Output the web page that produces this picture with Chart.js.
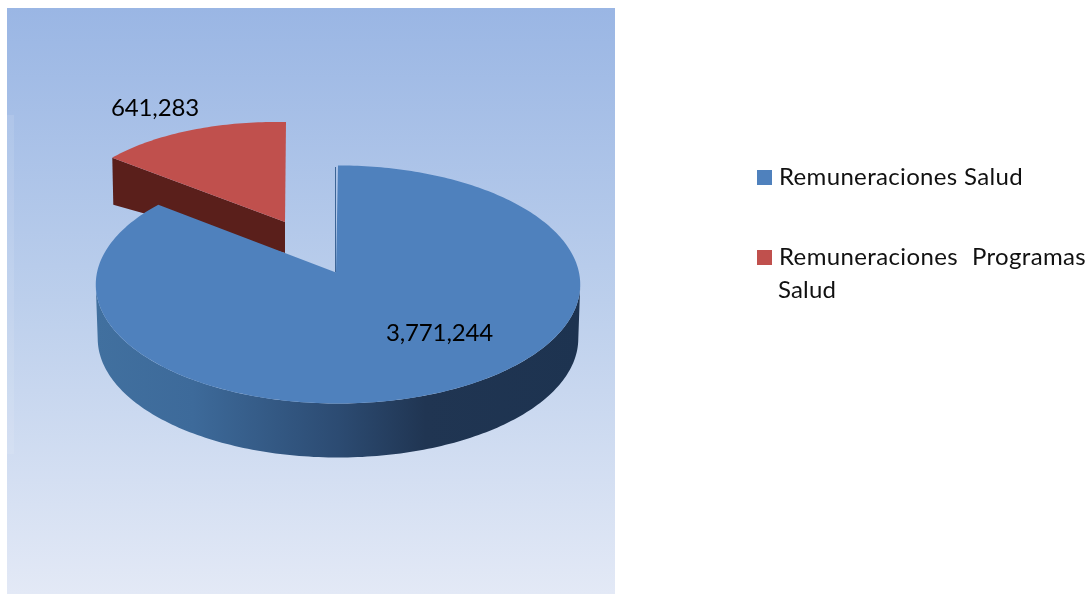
<!DOCTYPE html>
<html>
<head>
<meta charset="utf-8">
<script src="https://cdn.jsdelivr.net/npm/chart.js@4"></script>
<style>html,body{margin:0;padding:0;background:#fff;overflow:hidden}canvas{display:block}</style>
</head>
<body>
<canvas id="c" width="1089" height="594"></canvas>
<script>
const categories = ["Remuneraciones Salud", "Remuneraciones Programas Salud"];
const seriesValues = [3771244, 641283];
const valueLabels = ["3,771,244", "641,283"];
const sliceColors = ["#4f81bd", "#c0504d"];

const FONT = '24px Lato, Carlito, sans-serif';

// projection of the tilted pie disc: (u right, v away from the viewer, unit radius)
const blueCam = {x:338, y:272.5, rx:241, ry:117.8, p:0.1007, depth:54};
function projBlue(u, v, z) {
  const w = 1 + blueCam.p * v;
  const k = z ? 0.992 : 1;
  return [blueCam.x + k * blueCam.rx * u / w, blueCam.y - blueCam.ry * v / w + (z ? blueCam.depth : 0)];
}
// exploded slice: its own affine frame
const redFrame = {x:285, y:222, ax:1, ay:-100, bx:-219, by:-4};
function projRed(u, v) {
  return [redFrame.x + redFrame.ax * v + redFrame.bx * -u, redFrame.y + redFrame.ay * v + redFrame.by * -u];
}
function outline(ctx, fn, a0, a1, n, first) {
  for (let i = 0; i <= n; i++) {
    const t = a0 + (a1 - a0) * i / n;
    const th = t + Math.PI / 2;
    const p = fn(Math.sin(th), Math.cos(th));
    if (i === 0 && first) ctx.moveTo(p[0], p[1]); else ctx.lineTo(p[0], p[1]);
  }
}
function fitText(ctx, text, x, y, width) {
  ctx.letterSpacing = '0px';
  const m = ctx.measureText(text).width;
  ctx.letterSpacing = ((width - m) / text.length).toFixed(3) + 'px';
  ctx.fillText(text, x, y);
  ctx.letterSpacing = '0px';
}

const piePlugin = {
  id: 'tiltedPie',
  beforeDraw(chart) {
    const ctx = chart.ctx;
    const g = ctx.createLinearGradient(0, 8, 0, 594);
    g.addColorStop(0, '#9ab6e4');
    g.addColorStop(0.5, '#bccfec');
    g.addColorStop(1, '#e3e9f6');
    ctx.fillStyle = '#fff';
    ctx.fillRect(0, 0, 1089, 594);
    ctx.fillStyle = g;
    ctx.fillRect(7, 8, 608, 586);
    ctx.fillStyle = 'rgba(255,255,255,0.10)';
    ctx.fillRect(6, 115, 8, 339);
  },
  beforeDatasetDraw(chart) {
    const ctx = chart.ctx;
    const arcs = chart.getDatasetMeta(0).data;
    const blue = arcs[0], red = arcs[1];
    ctx.save();

    // exploded slice wall
    ctx.beginPath();
    const rl = projRed(Math.sin(red.startAngle + Math.PI / 2), Math.cos(red.startAngle + Math.PI / 2));
    ctx.moveTo(rl[0], rl[1]);
    ctx.lineTo(redFrame.x, redFrame.y);
    ctx.lineTo(redFrame.x, redFrame.y + 31);
    ctx.lineTo(rl[0] + 1, rl[1] + 47);
    ctx.closePath();
    ctx.fillStyle = '#5a1f1b';
    ctx.fill();

    // exploded slice top
    ctx.beginPath();
    ctx.moveTo(redFrame.x, redFrame.y);
    outline(ctx, projRed, red.startAngle, red.endAngle, 50, false);
    ctx.closePath();
    ctx.fillStyle = sliceColors[1];
    ctx.fill();

    // main slice wall, from silhouette edge to silhouette edge
    const a0 = 96 * Math.PI / 180 - Math.PI / 2, a1 = 264 * Math.PI / 180 - Math.PI / 2;
    ctx.beginPath();
    outline(ctx, (u, v) => projBlue(u, v, false), a0, a1, 160, true);
    outline(ctx, (u, v) => projBlue(u, v, true), a1, a0, 160, false);
    ctx.closePath();
    const w = ctx.createLinearGradient(96, 0, 581, 0);
    w.addColorStop(0, '#41709f');
    w.addColorStop(0.2, '#3d6a9a');
    w.addColorStop(0.5, '#2c4b72');
    w.addColorStop(0.68, '#203552');
    w.addColorStop(1, '#1d3350');
    ctx.fillStyle = w;
    ctx.fill();

    // main slice inner edge
    ctx.beginPath();
    ctx.moveTo(blueCam.x - 2.5, 167);
    ctx.lineTo(blueCam.x - 2.5, blueCam.y);
    ctx.strokeStyle = '#3d6596';
    ctx.lineWidth = 1;
    ctx.stroke();

    // main slice top
    ctx.beginPath();
    ctx.moveTo(blueCam.x - 2, blueCam.y);
    outline(ctx, (u, v) => projBlue(u, v, false), blue.startAngle, blue.endAngle, 300, false);
    ctx.closePath();
    ctx.fillStyle = sliceColors[0];
    ctx.fill();

    ctx.restore();
    return false;
  },
  afterDatasetsDraw(chart) {
    const ctx = chart.ctx;
    const labels = chart.data.labels;
    ctx.save();
    ctx.fillStyle = '#000';
    ctx.textBaseline = 'alphabetic';
    ctx.textAlign = 'left';
    ctx.font = FONT;
    fitText(ctx, valueLabels[0], 386, 341, 107);
    fitText(ctx, valueLabels[1], 111, 116, 88);

    // legend
    ctx.fillStyle = sliceColors[0];
    ctx.fillRect(757, 170, 15, 15);
    ctx.fillStyle = sliceColors[1];
    ctx.fillRect(757, 250, 15, 15);
    ctx.fillStyle = '#111';
    ctx.font = FONT;
    fitText(ctx, labels[0], 779, 185, 244);
    const words = labels[1].split(' ');
    fitText(ctx, words[0], 779, 265, 179);
    fitText(ctx, words[1], 972, 265, 114);
    fitText(ctx, words[2], 778, 298, 58);
    ctx.restore();
  }
};

new Chart(document.getElementById('c'), {
  type: 'pie',
  data: {
    labels: categories,
    datasets: [{ data: seriesValues, backgroundColor: sliceColors, borderWidth: 0 }]
  },
  options: {
    responsive: false,
    animation: false,
    layout: { padding: 0 },
    plugins: { legend: { display: false }, tooltip: { enabled: false }, title: { display: false } }
  },
  plugins: [piePlugin]
});
</script>
</body>
</html>
